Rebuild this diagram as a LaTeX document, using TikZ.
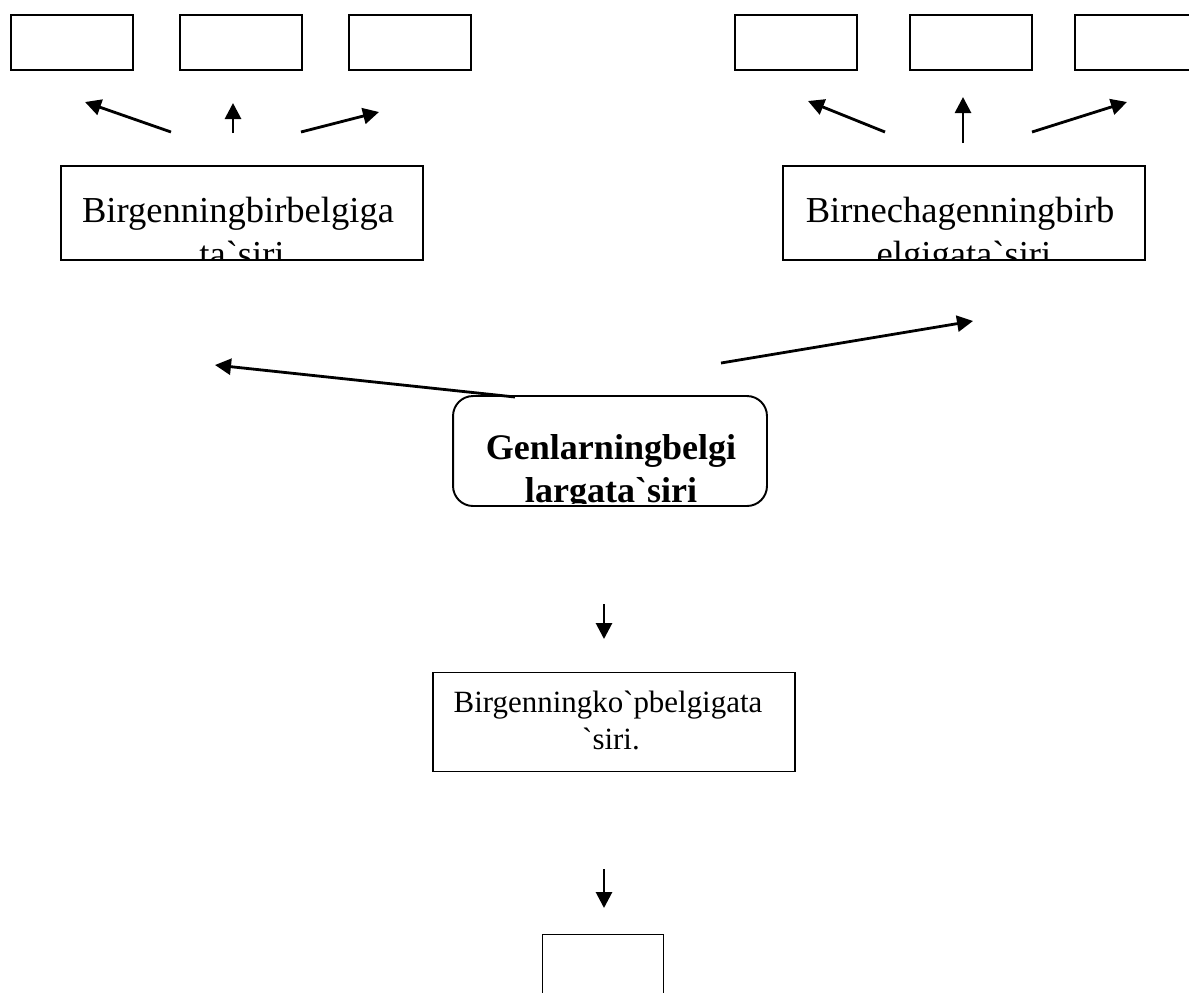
\documentclass[tikz,border=0pt]{standalone}
\usepackage{fontspec}
\setmainfont{Liberation Serif}
\usetikzlibrary{arrows.meta}
\begin{document}
\begin{tikzpicture}[x=0.02cm,y=-0.02cm,
  smallbox/.style={draw,line width=1.1pt,inner sep=0pt,minimum width=2.44cm,minimum height=1.1cm},
  textbox/.style={draw,line width=1.1pt,inner sep=0pt,minimum width=7.24cm,minimum height=1.88cm},
  roundbox/.style={draw,line width=1.1pt,inner sep=0pt,rounded corners=0.4cm,minimum width=6.28cm,minimum height=2.2cm},
  lbl/.style={anchor=base,inner sep=0pt,font=\fontsize{20.8}{24}\selectfont},
  blbl/.style={anchor=base,inner sep=0pt,font=\fontsize{20.5}{24}\selectfont\bfseries},
  slbl/.style={anchor=base,inner sep=0pt,font=\fontsize{17.6}{21}\selectfont},
  arr/.style={line width=1.6pt,-{Triangle[length=0.32cm,width=0.32cm]}}
]
\useasboundingbox (0,0) rectangle (1189,992);

% top small boxes
\node[smallbox] (t1) at (72,42.5) {};
\node[smallbox] (t2) at (241,42.5) {};
\node[smallbox] (t3) at (410,42.5) {};
\node[smallbox] (t4) at (796,42.5) {};
\node[smallbox] (t5) at (971,42.5) {};
\node[smallbox] (t6) at (1136,42.5) {};

% text boxes
\node[textbox] (lb) at (242,213) {};
\node[textbox] (rb) at (964,213) {};
\node[roundbox] (cb) at (610,451) {};
\node[textbox,minimum height=1.98cm] (mb) at (614,722) {};
\node[smallbox,minimum width=2.42cm,minimum height=1.3cm] (bb) at (603,967) {};

\begin{scope}
  \clip (lb.north west) rectangle ([yshift=0.04cm]lb.south east);
  \node[lbl] (lt1) at (238,222) {Birgenningbirbelgiga};
  \node[lbl] (lt2) at (242,266) {ta\textasciigrave{}siri};
\end{scope}
\begin{scope}
  \clip (rb.north west) rectangle ([yshift=0.04cm]rb.south east);
  \node[lbl] (rt1) at (960,222) {Birnechagenningbirb};
  \node[lbl] (rt2) at (964,266) {elgigata\textasciigrave{}siri};
\end{scope}
\begin{scope}
  \clip (cb.north west) rectangle ([yshift=0.06cm]cb.south east);
  \node[blbl] (ct1) at (611,459) {Genlarningbelgi};
  \node[blbl] (ct2) at (611,502) {largata\textasciigrave{}siri};
\end{scope}
\node[slbl] (mt1) at (608,712) {Birgenningko\textasciigrave{}pbelgigata};
\node[slbl] (mt2) at (611,749) {\textasciigrave{}siri.};

% arrow end points
\coordinate (a1s) at (171,132); \coordinate (a1e) at (85,102);
\coordinate (a2s) at (233,133); \coordinate (a2e) at (233,103);
\coordinate (a3s) at (301,132); \coordinate (a3e) at (379,112);
\coordinate (a4s) at (885,132); \coordinate (a4e) at (808,101);
\coordinate (a5s) at (963,143); \coordinate (a5e) at (963,97);
\coordinate (a6s) at (1032,132); \coordinate (a6e) at (1127,102);
\coordinate (a7s) at (515,397); \coordinate (a7e) at (215,365);
\coordinate (a8s) at (721,363); \coordinate (a8e) at (973,321);
\coordinate (a9s) at (604,604); \coordinate (a9e) at (604,639);
\coordinate (a10s) at (604,869); \coordinate (a10e) at (604,908);

\draw[arr] (a1s) -- (a1e);
\draw[arr] (a2s) -- (a2e);
\draw[arr] (a3s) -- (a3e);
\draw[arr] (a4s) -- (a4e);
\draw[arr] (a5s) -- (a5e);
\draw[arr] (a6s) -- (a6e);
\draw[arr] (a7s) -- (a7e);
\draw[arr] (a8s) -- (a8e);
\draw[arr] (a9s) -- (a9e);
\draw[arr] (a10s) -- (a10e);
\end{tikzpicture}
\end{document}
